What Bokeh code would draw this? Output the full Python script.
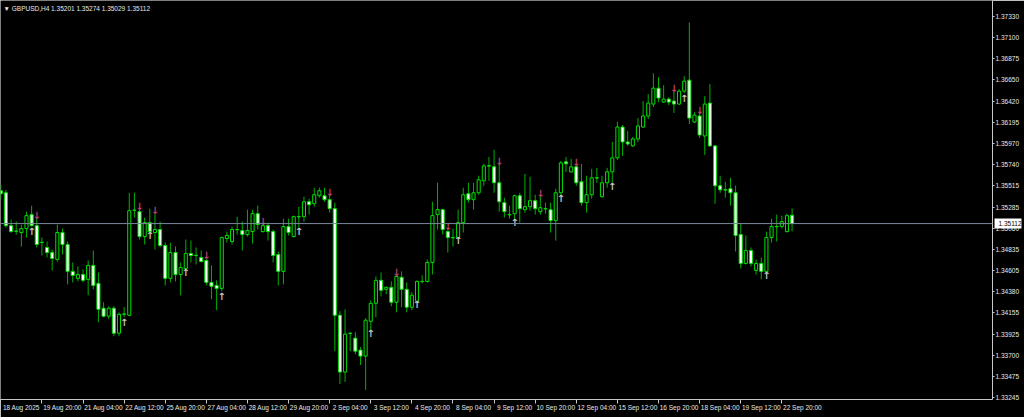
from bokeh.plotting import figure
from bokeh.models import Range1d, LinearAxis, FixedTicker, PrintfTickFormatter, Label, Span, ColumnDataSource
from bokeh.core.properties import value
from bokeh.embed import file_html
from bokeh.resources import INLINE

header_text = "\u25bc GBPUSD,H4  1.35201 1.35274 1.35029 1.35112"
last_price = 1.35112

opens = [
    1.35464, 1.35442, 1.35090, 1.35032, 1.35016, 1.35058, 1.35208, 1.35090, 1.34909, 1.34856,
    1.34802, 1.34728, 1.35016, 1.34888, 1.34600, 1.34525, 1.34567, 1.34514, 1.34664, 1.34472,
    1.34205, 1.34120, 1.34205, 1.33938, 1.34141, 1.34130, 1.35256, 1.35240, 1.34973, 1.35122,
    1.35016, 1.35048, 1.34877, 1.34525, 1.34802, 1.34567, 1.34632, 1.34792, 1.34770, 1.34749,
    1.34717, 1.34482, 1.34450, 1.34418, 1.34952, 1.34920, 1.35048, 1.35037, 1.34994, 1.35026,
    1.35218, 1.35026, 1.35090, 1.35026, 1.34781, 1.34600, 1.35080, 1.34973, 1.35186, 1.35186,
    1.35346, 1.35325, 1.35410, 1.35410, 1.35368, 1.35272, 1.34130, 1.33522, 1.33938, 1.33885,
    1.33757, 1.33693, 1.34066, 1.34258, 1.34504, 1.34408, 1.34429, 1.34269, 1.34536, 1.34408,
    1.34216, 1.34280, 1.34493, 1.34493, 1.34696, 1.35208, 1.35261, 1.35026, 1.34962, 1.34962,
    1.35122, 1.35432, 1.35368, 1.35442, 1.35570, 1.35730, 1.35720, 1.35549, 1.35336, 1.35208,
    1.35218, 1.35410, 1.35261, 1.35293, 1.35357, 1.35240, 1.35272, 1.35261, 1.35144, 1.35442,
    1.35773, 1.35666, 1.35720, 1.35560, 1.35336, 1.35421, 1.35602, 1.35400, 1.35549, 1.35666,
    1.35816, 1.36146, 1.35986, 1.35944, 1.36018, 1.36146, 1.36264, 1.36392, 1.36562, 1.36413,
    1.36445, 1.36424, 1.36392, 1.36530, 1.36648, 1.36200, 1.36264, 1.36050, 1.36402, 1.35944,
    1.35517, 1.35474, 1.35485, 1.35442, 1.34994, 1.34685, 1.34824, 1.34610, 1.34685, 1.34600,
    1.34962, 1.35080, 1.35080, 1.35026, 1.35201,
]
highs = [
    1.35528, 1.35474, 1.35154, 1.35133, 1.35101, 1.35240, 1.35304, 1.35165, 1.34962, 1.34920,
    1.34834, 1.35101, 1.35058, 1.34920, 1.34696, 1.34653, 1.34621, 1.34717, 1.34824, 1.34589,
    1.34269, 1.34226, 1.34226, 1.34162, 1.34216, 1.35442, 1.35442, 1.35272, 1.35176, 1.35272,
    1.35218, 1.35133, 1.34909, 1.34909, 1.34866, 1.34696, 1.34941, 1.34930, 1.34856, 1.34824,
    1.34749, 1.34664, 1.34504, 1.34973, 1.35026, 1.35080, 1.35186, 1.35133, 1.35261, 1.35261,
    1.35304, 1.35112, 1.35122, 1.35048, 1.34813, 1.35165, 1.35165, 1.35197, 1.35293, 1.35400,
    1.35378, 1.35496, 1.35496, 1.35496, 1.35421, 1.35336, 1.34173, 1.34194, 1.33949, 1.33949,
    1.33789, 1.34098, 1.34290, 1.34546, 1.34589, 1.34440, 1.34493, 1.34567, 1.34600, 1.34482,
    1.34376, 1.34504, 1.34557, 1.34728, 1.35346, 1.35549, 1.35272, 1.35048, 1.35058, 1.35261,
    1.35496, 1.35549, 1.35549, 1.35624, 1.35752, 1.35826, 1.35901, 1.35752, 1.35389, 1.35304,
    1.35421, 1.35442, 1.35645, 1.35613, 1.35421, 1.35400, 1.35336, 1.35336, 1.35485, 1.35784,
    1.35826, 1.35805, 1.35741, 1.35752, 1.35624, 1.35698, 1.35709, 1.35624, 1.35709, 1.35986,
    1.36200, 1.36168, 1.36104, 1.36040, 1.36242, 1.36424, 1.36498, 1.36722, 1.36680, 1.36594,
    1.36466, 1.36530, 1.36552, 1.36690, 1.37266, 1.36306, 1.36306, 1.36477, 1.36605, 1.35954,
    1.35624, 1.35560, 1.35602, 1.35517, 1.35112, 1.34984, 1.34856, 1.34728, 1.34749, 1.35026,
    1.35165, 1.35208, 1.35197, 1.35218, 1.35274,
]
lows = [
    1.35368, 1.35069, 1.35016, 1.34994, 1.34866, 1.34962, 1.35080, 1.34856, 1.34770, 1.34749,
    1.34610, 1.34706, 1.34781, 1.34461, 1.34482, 1.34493, 1.34482, 1.34344, 1.34408, 1.34056,
    1.34109, 1.34088, 1.33906, 1.33906, 1.34109, 1.34120, 1.35176, 1.34941, 1.34888, 1.35016,
    1.34834, 1.34856, 1.34450, 1.34482, 1.34493, 1.34344, 1.34621, 1.34696, 1.34674, 1.34696,
    1.34450, 1.34301, 1.34184, 1.34386, 1.34909, 1.34888, 1.34994, 1.34824, 1.34973, 1.34898,
    1.35048, 1.35016, 1.34930, 1.34696, 1.34450, 1.34461, 1.34984, 1.34962, 1.35069, 1.35133,
    1.35208, 1.35293, 1.35389, 1.35346, 1.35229, 1.33746, 1.33394, 1.33416, 1.33746, 1.33714,
    1.33597, 1.33330, 1.33970, 1.34109, 1.34333, 1.34354, 1.34226, 1.34162, 1.34216, 1.34162,
    1.34184, 1.34269, 1.34472, 1.34482, 1.34567, 1.35048, 1.34994, 1.34802, 1.34866, 1.34952,
    1.35016, 1.35336, 1.35261, 1.35421, 1.35517, 1.35570, 1.35442, 1.35240, 1.35176, 1.35165,
    1.35154, 1.35122, 1.35229, 1.35250, 1.35208, 1.35208, 1.35218, 1.35016, 1.34930, 1.35410,
    1.35666, 1.35656, 1.35517, 1.35304, 1.35229, 1.35378, 1.35549, 1.35389, 1.35496, 1.35549,
    1.35794, 1.35837, 1.35944, 1.35933, 1.35986, 1.36136, 1.36232, 1.36360, 1.36413, 1.36408,
    1.36381, 1.36296, 1.36381, 1.36509, 1.36178, 1.36189, 1.36029, 1.35848, 1.35933, 1.35325,
    1.35442, 1.35389, 1.35304, 1.34813, 1.34632, 1.34674, 1.34653, 1.34567, 1.34514, 1.34589,
    1.34909, 1.34920, 1.35058, 1.35016, 1.35029,
]
closes = [
    1.35432, 1.35090, 1.35026, 1.35030, 1.35058, 1.35197, 1.35090, 1.34888, 1.34912, 1.34802,
    1.34738, 1.35016, 1.34888, 1.34600, 1.34557, 1.34567, 1.34504, 1.34664, 1.34450, 1.34194,
    1.34120, 1.34205, 1.33938, 1.34141, 1.34144, 1.35250, 1.35254, 1.34973, 1.35122, 1.35026,
    1.35048, 1.34877, 1.34525, 1.34802, 1.34567, 1.34642, 1.34792, 1.34770, 1.34772, 1.34706,
    1.34482, 1.34440, 1.34418, 1.34962, 1.34984, 1.35048, 1.35046, 1.34994, 1.35037, 1.35218,
    1.35101, 1.35090, 1.35026, 1.34770, 1.34600, 1.35080, 1.35016, 1.35186, 1.35184, 1.35346,
    1.35314, 1.35421, 1.35464, 1.35368, 1.35272, 1.34130, 1.33522, 1.33928, 1.33936, 1.33746,
    1.33693, 1.34077, 1.34258, 1.34504, 1.34397, 1.34429, 1.34269, 1.34546, 1.34408, 1.34216,
    1.34344, 1.34493, 1.34491, 1.34696, 1.35197, 1.35261, 1.35048, 1.34962, 1.34960, 1.35122,
    1.35421, 1.35368, 1.35442, 1.35581, 1.35730, 1.35728, 1.35549, 1.35346, 1.35240, 1.35206,
    1.35410, 1.35272, 1.35293, 1.35357, 1.35272, 1.35282, 1.35270, 1.35144, 1.35442, 1.35762,
    1.35752, 1.35720, 1.35549, 1.35336, 1.35421, 1.35602, 1.35600, 1.35549, 1.35666, 1.35816,
    1.36146, 1.35986, 1.35965, 1.36018, 1.36157, 1.36264, 1.36402, 1.36562, 1.36456, 1.36445,
    1.36413, 1.36392, 1.36530, 1.36637, 1.36242, 1.36274, 1.36061, 1.36392, 1.35944, 1.35517,
    1.35474, 1.35472, 1.35442, 1.34984, 1.34685, 1.34824, 1.34685, 1.34685, 1.34600, 1.34962,
    1.35080, 1.35078, 1.35133, 1.35197, 1.35112,
]

# marker arrows (bar index, price)
down_idx = [7, 27, 30, 40, 51, 64, 77, 87, 97, 105, 112, 131, 136]
down_px = [1.35197, 1.35293, 1.35250, 1.34775, 1.35136, 1.35445, 1.34592, 1.35080, 1.35776, 1.35432, 1.35762, 1.36562, 1.36328]
up_idx = [6, 24, 29, 36, 43, 58, 72, 81, 89, 100, 109, 119, 133, 149]
up_px = [1.35026, 1.34056, 1.34984, 1.34589, 1.34333, 1.35026, 1.33938, 1.34248, 1.34930, 1.35122, 1.35378, 1.35506, 1.36456, 1.34557]

date_ticks = [0, 8, 16, 24, 32, 40, 48, 56, 64, 72, 80, 88, 96, 104, 112, 120, 128, 136, 144, 152]
date_labels = ["18 Aug 2025", "19 Aug 20:00", "21 Aug 04:00", "22 Aug 12:00", "25 Aug 20:00",
               "27 Aug 04:00", "28 Aug 12:00", "29 Aug 20:00", "2 Sep 04:00", "3 Sep 12:00",
               "4 Sep 20:00", "8 Sep 04:00", "9 Sep 12:00", "10 Sep 20:00", "12 Sep 04:00",
               "15 Sep 12:00", "16 Sep 20:00", "18 Sep 04:00", "19 Sep 12:00", "22 Sep 20:00"]
price_ticks = [1.37330, 1.37100, 1.36875, 1.36650, 1.36420, 1.36195, 1.35970, 1.35740, 1.35515,
               1.35285, 1.35060, 1.34835, 1.34605, 1.34380, 1.34155, 1.33925, 1.33700, 1.33475, 1.33245]

FONT = "Liberation Sans"
FS = "6.5px"
WICK = "#00b000"
EDGE = "#00e000"
AXIS = "#c8c8c8"
TXT = "#e8e8e8"

X0, X1 = -0.06, 193.0
Y0, Y1 = 1.33228, 1.37501
SHIFT = 4.0

p = figure(width=1024, height=417, output_backend="svg", toolbar_location=None,
           x_range=Range1d(X0, X1), y_range=Range1d(Y0, Y1),
           x_axis_location=None, y_axis_location=None,
           background_fill_color="#000000", border_fill_color="#000000",
           outline_line_color=None, min_border=0, min_border_bottom=18)
p.grid.visible = False

n = len(opens)
idx = list(range(n))
bull = [i for i in idx if closes[i] > opens[i]]
bear = [i for i in idx if closes[i] <= opens[i]]

p.segment(x0=idx, y0=lows, x1=idx, y1=highs, line_color=WICK, line_width=1)

src_bull = ColumnDataSource(dict(x=bull, top=[closes[i] for i in bull], bottom=[opens[i] for i in bull]))
src_bear = ColumnDataSource(dict(x=bear, top=[opens[i] for i in bear], bottom=[closes[i] for i in bear]))
p.vbar(x="x", top="top", bottom="bottom", width=0.6, source=src_bull,
       fill_color="#000000", line_color=EDGE, line_width=1)
p.vbar(x="x", top="top", bottom="bottom", width=0.6, source=src_bear,
       fill_color="#ffffff", line_color=EDGE, line_width=1)

p.text(x=down_idx, y=down_px, text=["\u2193"] * len(down_idx), text_color="#b8406e",
       text_font=value("DejaVu Sans"), text_font_size="10px", text_font_style="bold",
       text_align="center", text_baseline="middle")
p.text(x=up_idx, y=up_px, text=["\u2191"] * len(up_idx), text_color="#c4c4c4",
       text_font=value("DejaVu Sans"), text_font_size="10px", text_font_style="bold",
       text_align="center", text_baseline="middle")

p.add_layout(Span(location=last_price, dimension="width", line_color="#778899", line_width=1))

# right price axis
yax = LinearAxis(ticker=FixedTicker(ticks=price_ticks, minor_ticks=[]),
                 formatter=PrintfTickFormatter(format="%.5f"),
                 axis_line_color=AXIS, major_tick_line_color=AXIS, major_tick_in=0, major_tick_out=2,
                 minor_tick_line_color=None, major_label_standoff=1,
                 major_label_text_color=TXT, major_label_text_font=FONT, major_label_text_font_size=FS)
p.add_layout(yax, "right")
# current-price marker box on the price scale (white tick drawn back over the scale)
bax = LinearAxis(ticker=FixedTicker(ticks=[last_price], minor_ticks=[]),
                 formatter=PrintfTickFormatter(format="%.5f"),
                 axis_line_color=None, major_tick_line_color="#ffffff", major_tick_line_width=10,
                 major_tick_in=27, major_tick_out=0, minor_tick_line_color=None,
                 major_label_standoff=-23, major_label_text_color="#000000",
                 major_label_text_font=FONT, major_label_text_font_size=FS)
p.add_layout(bax, "right")

# bottom time axis: tick marks on the bar, labels start right of the tick
tax = LinearAxis(ticker=FixedTicker(ticks=date_ticks, minor_ticks=[]),
                 axis_line_color=AXIS, major_tick_line_color=AXIS, major_tick_in=0, major_tick_out=4,
                 minor_tick_line_color=None, major_label_standoff=0,
                 major_label_text_color=None, major_label_text_font_size="1px")
p.add_layout(tax, "below")
p.extra_x_ranges = {"dates": Range1d(X0 - SHIFT, X1 - SHIFT)}
lax = LinearAxis(x_range_name="dates", ticker=FixedTicker(ticks=date_ticks, minor_ticks=[]),
                 major_label_overrides={t: s for t, s in zip(date_ticks, date_labels)},
                 axis_line_color=None, major_tick_line_color=None, minor_tick_line_color=None,
                 major_label_standoff=-6, major_label_text_color=TXT,
                 major_label_text_font=FONT, major_label_text_font_size=FS)
p.add_layout(lax, "below")

p.add_layout(Label(x=X0, y=Y1, x_offset=3, y_offset=-8, text=header_text,
                   text_font=FONT, text_font_size=FS, text_color=TXT,
                   text_align="left", text_baseline="middle"))

open("out.html", "w").write(file_html(p, INLINE))
